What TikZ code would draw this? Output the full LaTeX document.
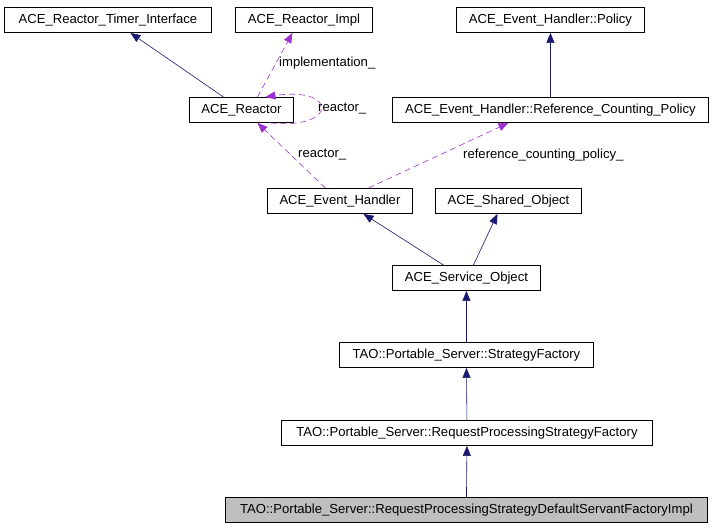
\documentclass[tikz,border=0pt]{standalone}
\usepackage{fontspec}
\setmainfont{Liberation Sans}
\usetikzlibrary{arrows.meta, positioning, calc}

\definecolor{edgenavy}{HTML}{191970}
\definecolor{edgeorchid}{HTML}{9A32CD}
\definecolor{leafgray}{HTML}{BFBFBF}

\begin{document}
\begin{tikzpicture}[x=1pt, y=-1pt,
                classbox/.style={draw, line width=0.9pt, anchor=north west, minimum height=25pt,
                                 inner sep=0pt, font=\fontsize{13.1}{15}\selectfont},
                inherit/.style={-{Triangle[length=10pt, width=8pt]}, edgenavy, semithick},
                member/.style={-{Triangle[length=10pt, width=8pt]}, edgeorchid, semithick,
                               dash pattern=on 6pt off 4pt},
                memberlabel/.style={anchor=west, inner sep=0pt, font=\fontsize{13.1}{15}\selectfont}]

                \useasboundingbox (0,0) rectangle (713,528);

                % Top row
                \node[classbox, minimum width=207pt] (timer) at (4,7) {ACE\_Reactor\_Timer\_Interface};
                \node[classbox, minimum width=137pt] (impl) at (235,7) {ACE\_Reactor\_Impl};
                \node[classbox, minimum width=188pt] (policy) at (456,7) {ACE\_Event\_Handler::Policy};

                % Second row
                \node[classbox, minimum width=104pt] (reactor) at (189,97) {ACE\_Reactor};
                \node[classbox, minimum width=316pt] (refpolicy) at (392,97) {ACE\_Event\_Handler::Reference\_Counting\_Policy};

                % Third row
                \node[classbox, minimum width=145pt] (handler) at (267,188) {ACE\_Event\_Handler};
                \node[classbox, minimum width=146pt] (shared) at (435,188) {ACE\_Shared\_Object};

                % Inheritance chain
                \node[classbox, minimum width=148pt] (service) at (392,265) {ACE\_Service\_Object};
                \node[classbox, minimum width=254pt] (stratfactory) at (339,342) {TAO::Portable\_Server::StrategyFactory};
                \node[classbox, minimum width=371pt] (rpsfactory) at (281,420) {TAO::Portable\_Server::RequestProcessingStrategyFactory};
                \node[classbox, minimum width=482pt, fill=leafgray] (leaf) at (225,497) {TAO::Portable\_Server::RequestProcessingStrategyDefaultServantFactoryImpl};

                % Inheritance arrows (navy)
                \draw[inherit] ([xshift=-18pt]reactor.north) -- ([xshift=22.5pt]timer.south);
                \draw[inherit] (refpolicy.north) -- (policy.south);
                \draw[inherit] ([xshift=-23pt]service.north) -- ([xshift=23.5pt]handler.south);
                \draw[inherit] ([xshift=7pt]service.north) -- ([xshift=-11pt]shared.south);
                \draw[inherit] (stratfactory.north) -- (service.south);
                \draw[inherit] (rpsfactory.north) -- (stratfactory.south);
                \draw[inherit] (leaf.north) -- (rpsfactory.south);

                % Member arrows (orchid)
                \draw[member] ([xshift=16pt]reactor.north) -- ([xshift=-11.5pt]impl.south);
                \draw[member] ([xshift=29pt]reactor.south) .. controls (338,130) and (338,86) .. ([xshift=24pt]reactor.north);
                \draw[member] ([xshift=-14.5pt]handler.north) -- ([xshift=16pt]reactor.south);
                \draw[member] ([xshift=28.5pt]handler.north) -- ([xshift=-42pt]refpolicy.south);

                % Member labels
                \node[memberlabel] (implname) at (279,63) {implementation\_};
                \node[memberlabel] (selfname) at (318,109) {reactor\_};
                \node[memberlabel] (reactorname) at (298,155) {reactor\_};
                \node[memberlabel] (refname) at (463,155) {reference\_counting\_policy\_};
\end{tikzpicture}
\end{document}
